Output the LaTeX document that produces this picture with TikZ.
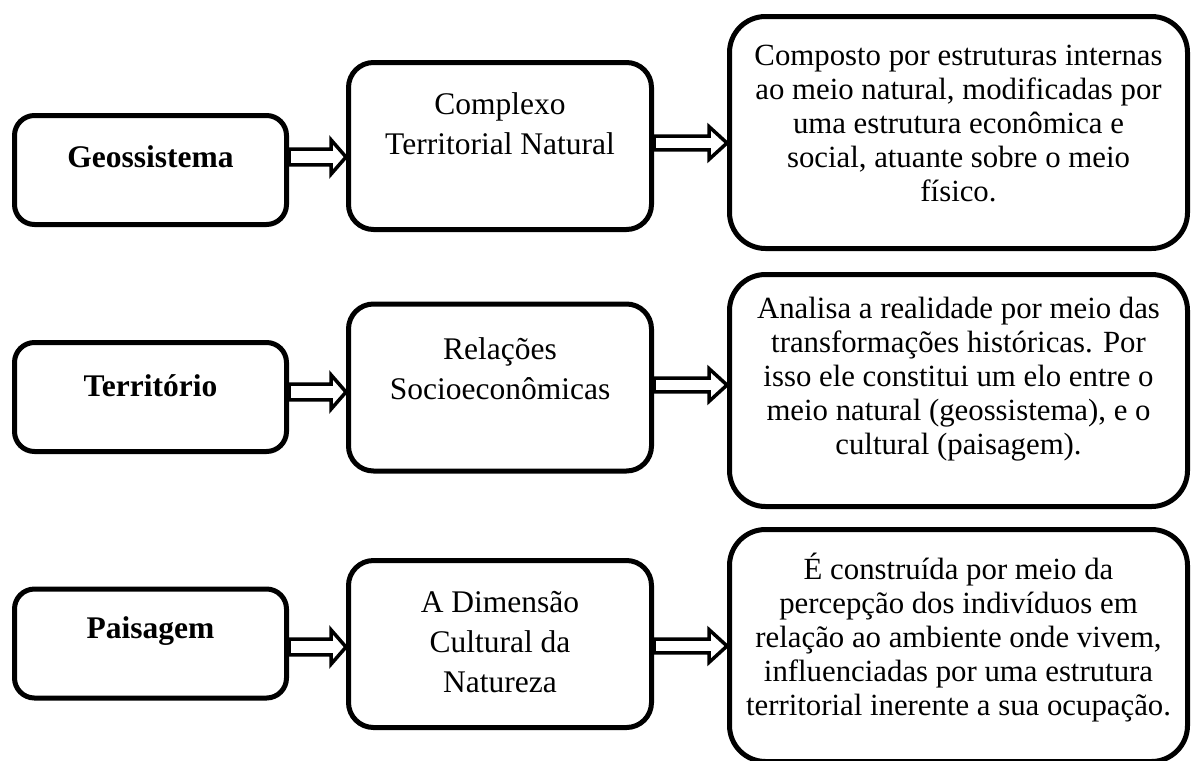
\documentclass[tikz,border=0pt]{standalone}
\usepackage{fontspec}
\setmainfont{Liberation Serif}
\usetikzlibrary{calc}
\begin{document}
\begin{tikzpicture}[x=0.5pt,y=-0.5pt,
  leftbox/.style={draw=black, line width=2.5pt, fill=white, rounded corners=10pt, inner sep=0pt, minimum width=136pt, minimum height=54.5pt},
  midbox/.style={draw=black, line width=2.5pt, fill=white, rounded corners=12.5pt, inner sep=0pt, minimum width=151.5pt, minimum height=83.5pt},
  rightbox/.style={draw=black, line width=2.5pt, fill=white, rounded corners=18pt, inner sep=0pt, minimum width=229pt, minimum height=116pt},
  lefttext/.style={font=\fontsize{15.75}{20}\selectfont\bfseries, inner sep=0pt, align=center},
  midtext/.style={font=\fontsize{15.75}{20}\selectfont, inner sep=0pt, align=center},
  righttext/.style={font=\fontsize{15.4}{17}\selectfont, inner sep=0pt, align=center},
  blockarrow/.style n args={3}{draw=black, fill=white, line width=1.75pt, line join=miter,
    to path={let \p1=(\tikztostart), \p2=(\tikztotarget) in
      (\x1,\y1+#1) -- (\x2-#3,\y1+#1) -- (\x2-#3,\y1+#2) -- (\x2,\y1)
      -- (\x2-#3,\y1-#2) -- (\x2-#3,\y1-#1) -- (\x1,\y1-#1) -- cycle}},
  smallarrow/.style={blockarrow={3.9pt}{8.6pt}{7.5pt}},
  widearrow/.style={blockarrow={3.4pt}{8.2pt}{9pt}}
]
\useasboundingbox (0,0) rectangle (1192,760);

% boxes
\node[leftbox] (g1) at (150.5,170) {};
\node[leftbox] (g2) at (150.5,397) {};
\node[leftbox] (g3) at (150.5,643.5) {};

\node[midbox] (m1) at (500,146) {};
\node[midbox] (m2) at (500,387.5) {};
\node[midbox] (m3) at (500,644) {};

\node[rightbox] (r1) at (958.5,132.5) {};
\node[rightbox] (r2) at (958.5,390.5) {};
\node[rightbox] (r3) at (958.5,645.5) {};

% texts
\node[lefttext] (tg1) at (150.5,157) {Geossistema};
\node[lefttext] (tg2) at (150.5,386) {Território};
\node[lefttext] (tg3) at (150.5,631) {Paisagem};

\node[midtext] (tm1) at (500,124) {Complexo\\Territorial Natural};
\node[midtext] (tm2) at (500,369) {Relações\\Socioeconômicas};
\node[midtext] (tm3) at (500,642) {A Dimensão\\Cultural da\\Natureza};

\node[righttext] (tr1) at (958.5,124) {Composto por estruturas internas\\ao meio natural, modificadas por\\uma estrutura econômica e\\social, atuante sobre o meio\\físico.};
\node[righttext] (tr2) at (958.5,379) {Analisa a realidade por meio das\\transformações históricas. Por\\isso ele constitui um elo entre o\\meio natural (geossistema), e o\\cultural (paisagem).};
\node[righttext] (tr3) at (958.5,638) {É construída por meio da\\percepção dos indivíduos em\\relação ao ambiente onde vivem,\\influenciadas por uma estrutura\\territorial inerente a sua ocupação.};

% arrow end points
\coordinate (a1s) at ([yshift=6.5pt]g1.east);
\coordinate (a1t) at (m1.west |- a1s);
\coordinate (b1s) at ([yshift=1.5pt]m1.east);
\coordinate (b1t) at (r1.west |- b1s);
\coordinate (a2s) at ([yshift=2.5pt]g2.east);
\coordinate (a2t) at (m2.west |- a2s);
\coordinate (b2s) at ([yshift=1.25pt]m2.east);
\coordinate (b2t) at (r2.west |- b2s);
\coordinate (a3s) at ([yshift=-1.75pt]g3.east);
\coordinate (a3t) at (m3.west |- a3s);
\coordinate (b3s) at ([yshift=-1pt]m3.east);
\coordinate (b3t) at (r3.west |- b3s);

\draw[smallarrow] (a1s) to (a1t);
\draw[widearrow] (b1s) to (b1t);
\draw[smallarrow] (a2s) to (a2t);
\draw[widearrow] (b2s) to (b2t);
\draw[smallarrow] (a3s) to (a3t);
\draw[widearrow] (b3s) to (b3t);
\end{tikzpicture}
\end{document}
